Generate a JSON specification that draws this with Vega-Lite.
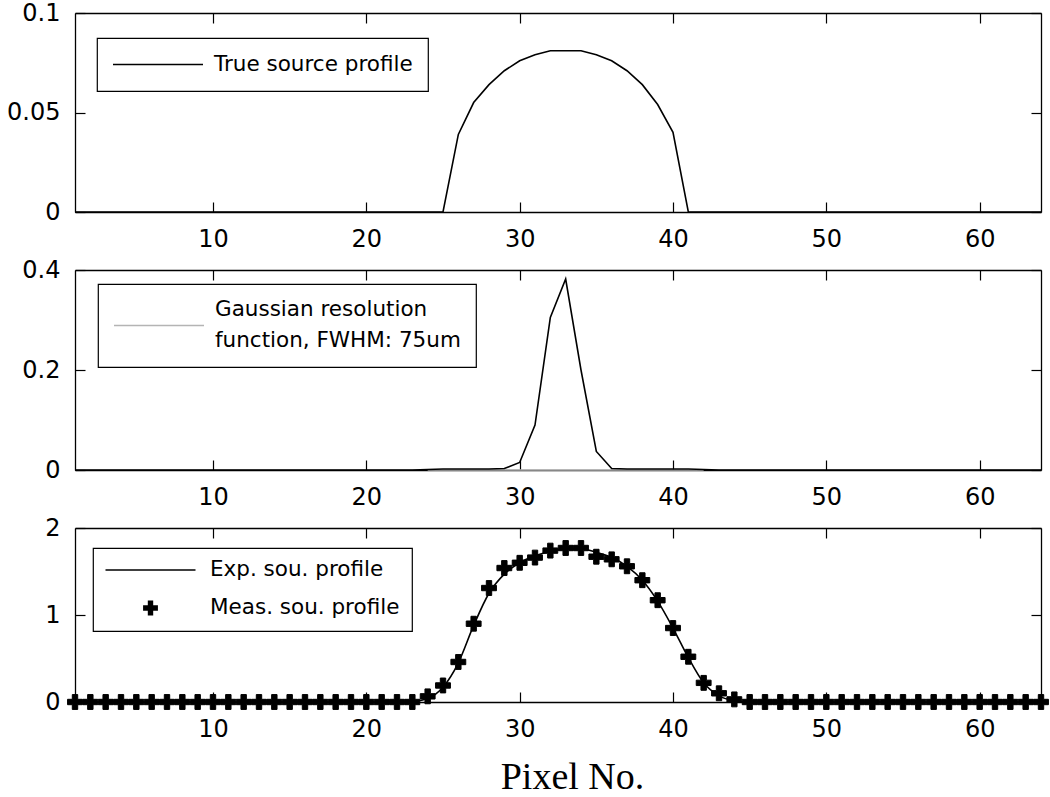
{
  "$schema": "https://vega.github.io/schema/vega-lite/v6.json",
  "background": "white",
  "padding": {"left": 6, "top": 1, "right": 5, "bottom": 0},
  "bounds": "flush",
  "spacing": 58,
  "resolve": {"scale": {"color": "independent", "shape": "independent"}, "legend": {"color": "independent", "shape": "independent"}},
  "config": {
    "view": {"stroke": null},
    "axis": {
      "grid": false,
      "domainColor": "black",
      "domainWidth": 1.3,
      "tickColor": "black",
      "tickWidth": 1.2,
      "tickSize": -10,
      "labelFont": "DejaVu Sans",
      "labelFontSize": 24,
      "labelColor": "black",
      "labelPadding": 25,
      "labelFlush": false,
      "labelOverlap": false
    },
    "legend": {
      "strokeColor": "black",
      "strokeWidth": 1.2,
      "fillColor": "white",
      "cornerRadius": 0,
      "labelFont": "DejaVu Sans",
      "labelFontSize": 21.5,
      "labelColor": "black",
      "labelLimit": 500
    }
  },
  "datasets": {
    "p1": [
      {"x":1,"y":0},{"x":2,"y":0},{"x":3,"y":0},{"x":4,"y":0},{"x":5,"y":0},{"x":6,"y":0},{"x":7,"y":0},{"x":8,"y":0},
      {"x":9,"y":0},{"x":10,"y":0},{"x":11,"y":0},{"x":12,"y":0},{"x":13,"y":0},{"x":14,"y":0},{"x":15,"y":0},{"x":16,"y":0},
      {"x":17,"y":0},{"x":18,"y":0},{"x":19,"y":0},{"x":20,"y":0},{"x":21,"y":0},{"x":22,"y":0},{"x":23,"y":0},{"x":24,"y":0},
      {"x":25,"y":0},{"x":26,"y":0.039},{"x":27,"y":0.055},{"x":28,"y":0.064},{"x":29,"y":0.071},{"x":30,"y":0.076},{"x":31,"y":0.079},{"x":32,"y":0.081},
      {"x":33,"y":0.081},{"x":34,"y":0.081},{"x":35,"y":0.079},{"x":36,"y":0.076},{"x":37,"y":0.071},{"x":38,"y":0.064},{"x":39,"y":0.054},{"x":40,"y":0.04},
      {"x":41,"y":0},{"x":42,"y":0},{"x":43,"y":0},{"x":44,"y":0},{"x":45,"y":0},{"x":46,"y":0},{"x":47,"y":0},{"x":48,"y":0},
      {"x":49,"y":0},{"x":50,"y":0},{"x":51,"y":0},{"x":52,"y":0},{"x":53,"y":0},{"x":54,"y":0},{"x":55,"y":0},{"x":56,"y":0},
      {"x":57,"y":0},{"x":58,"y":0},{"x":59,"y":0},{"x":60,"y":0},{"x":61,"y":0},{"x":62,"y":0},{"x":63,"y":0},{"x":64,"y":0}
    ],
    "p2": [
      {"x":1,"y":0},{"x":2,"y":0},{"x":3,"y":0},{"x":4,"y":0},{"x":5,"y":0},{"x":6,"y":0},{"x":7,"y":0},{"x":8,"y":0},
      {"x":9,"y":0},{"x":10,"y":0},{"x":11,"y":0},{"x":12,"y":0},{"x":13,"y":0},{"x":14,"y":0},{"x":15,"y":0},{"x":16,"y":0},
      {"x":17,"y":0},{"x":18,"y":0},{"x":19,"y":0},{"x":20,"y":0},{"x":21,"y":0},{"x":22,"y":0},{"x":23,"y":0},{"x":24,"y":0.001},
      {"x":25,"y":0.002},{"x":26,"y":0.002},{"x":27,"y":0.002},{"x":28,"y":0.002},{"x":29,"y":0.003},{"x":30,"y":0.015},{"x":31,"y":0.09},{"x":32,"y":0.305},
      {"x":33,"y":0.382},{"x":34,"y":0.2},{"x":35,"y":0.037},{"x":36,"y":0.003},{"x":37,"y":0.002},{"x":38,"y":0.002},{"x":39,"y":0.002},{"x":40,"y":0.002},
      {"x":41,"y":0.002},{"x":42,"y":0.001},{"x":43,"y":0},{"x":44,"y":0},{"x":45,"y":0},{"x":46,"y":0},{"x":47,"y":0},{"x":48,"y":0},
      {"x":49,"y":0},{"x":50,"y":0},{"x":51,"y":0},{"x":52,"y":0},{"x":53,"y":0},{"x":54,"y":0},{"x":55,"y":0},{"x":56,"y":0},
      {"x":57,"y":0},{"x":58,"y":0},{"x":59,"y":0},{"x":60,"y":0},{"x":61,"y":0},{"x":62,"y":0},{"x":63,"y":0},{"x":64,"y":0}
    ],
    "p2g": [
      {"x":24,"y":0},{"x":42,"y":0}
    ],
    "p3": [
      {"x":1,"exp":0,"meas":0},{"x":2,"exp":0,"meas":0},{"x":3,"exp":0,"meas":0},{"x":4,"exp":0,"meas":0},
      {"x":5,"exp":0,"meas":0},{"x":6,"exp":0,"meas":0},{"x":7,"exp":0,"meas":0},{"x":8,"exp":0,"meas":0},
      {"x":9,"exp":0,"meas":0},{"x":10,"exp":0,"meas":0},{"x":11,"exp":0,"meas":0},{"x":12,"exp":0,"meas":0},
      {"x":13,"exp":0,"meas":0},{"x":14,"exp":0,"meas":0},{"x":15,"exp":0,"meas":0},{"x":16,"exp":0,"meas":0},
      {"x":17,"exp":0,"meas":0},{"x":18,"exp":0,"meas":0},{"x":19,"exp":0,"meas":0},{"x":20,"exp":0,"meas":0},
      {"x":21,"exp":0,"meas":0},{"x":22,"exp":0,"meas":0},{"x":23,"exp":0.005,"meas":0},{"x":24,"exp":0.04,"meas":0.065},
      {"x":25,"exp":0.17,"meas":0.19},{"x":26,"exp":0.45,"meas":0.46},{"x":27,"exp":0.88,"meas":0.9},{"x":28,"exp":1.25,"meas":1.31},
      {"x":29,"exp":1.47,"meas":1.54},{"x":30,"exp":1.6,"meas":1.6},{"x":31,"exp":1.68,"meas":1.66},{"x":32,"exp":1.73,"meas":1.74},
      {"x":33,"exp":1.76,"meas":1.77},{"x":34,"exp":1.76,"meas":1.77},{"x":35,"exp":1.72,"meas":1.67},{"x":36,"exp":1.66,"meas":1.64},
      {"x":37,"exp":1.56,"meas":1.56},{"x":38,"exp":1.4,"meas":1.4},{"x":39,"exp":1.16,"meas":1.17},{"x":40,"exp":0.85,"meas":0.85},
      {"x":41,"exp":0.51,"meas":0.52},{"x":42,"exp":0.22,"meas":0.22},{"x":43,"exp":0.07,"meas":0.1},{"x":44,"exp":0.015,"meas":0.03},
      {"x":45,"exp":0,"meas":0},{"x":46,"exp":0,"meas":0},{"x":47,"exp":0,"meas":0},{"x":48,"exp":0,"meas":0},
      {"x":49,"exp":0,"meas":0},{"x":50,"exp":0,"meas":0},{"x":51,"exp":0,"meas":0},{"x":52,"exp":0,"meas":0},
      {"x":53,"exp":0,"meas":0},{"x":54,"exp":0,"meas":0},{"x":55,"exp":0,"meas":0},{"x":56,"exp":0,"meas":0},
      {"x":57,"exp":0,"meas":0},{"x":58,"exp":0,"meas":0},{"x":59,"exp":0,"meas":0},{"x":60,"exp":0,"meas":0},
      {"x":61,"exp":0,"meas":0},{"x":62,"exp":0,"meas":0},{"x":63,"exp":0,"meas":0},{"x":64,"exp":0,"meas":0}
    ]
  },
  "vconcat": [
    {
      "width": 966,
      "height": 199,
      "data": {"name": "p1"},
      "resolve": {"axis": {"x": "independent", "y": "independent"}},
      "layer": [
        {
          "mark": {"type": "line", "strokeWidth": 1.6},
          "encoding": {
            "x": {"field": "x", "type": "quantitative", "scale": {"domain": [1, 64], "nice": false, "zero": false},
                  "axis": {"orient": "bottom", "values": [10, 20, 30, 40, 50, 60], "title": null}},
            "y": {"field": "y", "type": "quantitative", "scale": {"domain": [0, 0.1], "nice": false},
                  "axis": {"orient": "left", "values": [0, 0.05, 0.1], "format": "~g", "title": null}},
            "color": {"datum": "True source profile", "scale": {"range": ["black"]},
                      "legend": {"title": null, "orient": "none", "legendX": 22, "legendY": 25, "symbolType": "stroke",
                                 "symbolSize": 8100, "symbolStrokeWidth": 1.5, "labelOffset": 10, "padding": 15, "clipHeight": 23}}
          }
        },
        {
          "mark": {"type": "line", "strokeOpacity": 0},
          "encoding": {
            "x": {"field": "x", "type": "quantitative", "axis": {"orient": "top", "values": [10, 20, 30, 40, 50, 60], "labels": false, "title": null}},
            "y": {"field": "y", "type": "quantitative", "axis": {"orient": "right", "values": [0, 0.05, 0.1], "labels": false, "title": null}}
          }
        }
      ]
    },
    {
      "width": 966,
      "height": 200,
      "resolve": {"axis": {"x": "independent", "y": "independent"}},
      "layer": [
        {
          "data": {"name": "p2g"},
          "mark": {"type": "line", "strokeWidth": 1.6},
          "encoding": {
            "x": {"field": "x", "type": "quantitative", "scale": {"domain": [1, 64], "nice": false, "zero": false},
                  "axis": {"orient": "top", "values": [10, 20, 30, 40, 50, 60], "labels": false, "title": null}},
            "y": {"field": "y", "type": "quantitative", "scale": {"domain": [0, 0.4], "nice": false},
                  "axis": {"orient": "right", "values": [0, 0.2, 0.4], "labels": false, "title": null}},
            "color": {"datum": "Gaussian resolution|function, FWHM: 75um", "scale": {"range": ["#b4b4b4"]},
                      "legend": {"title": null, "orient": "none", "legendX": 23, "legendY": 14, "symbolType": "stroke",
                                 "symbolSize": 8100, "symbolStrokeWidth": 1.5, "labelOffset": 10, "padding": 15, "clipHeight": 53,
                                 "labelExpr": "split(datum.label, '|')",
                                 "encode": {"labels": {"update": {"lineHeight": {"value": 31}, "dy": {"value": -15.5}}}}}}
          }
        },
        {
          "data": {"name": "p2"},
          "mark": {"type": "line", "color": "black", "strokeWidth": 1.6},
          "encoding": {
            "x": {"field": "x", "type": "quantitative", "axis": {"orient": "bottom", "values": [10, 20, 30, 40, 50, 60], "title": null}},
            "y": {"field": "y", "type": "quantitative", "axis": {"orient": "left", "values": [0, 0.2, 0.4], "format": "~g", "title": null}}
          }
        }
      ]
    },
    {
      "width": 966,
      "height": 174,
      "data": {"name": "p3"},
      "resolve": {"axis": {"x": "independent", "y": "independent"}},
      "layer": [
        {
          "mark": {"type": "line", "color": "black", "strokeWidth": 1.6, "interpolate": "monotone"},
          "encoding": {
            "x": {"field": "x", "type": "quantitative", "scale": {"domain": [1, 64], "nice": false, "zero": false},
                  "axis": {"orient": "bottom", "values": [10, 20, 30, 40, 50, 60], "title": "Pixel No.",
                           "titleFont": "Liberation Serif", "titleFontSize": 38, "titleFontWeight": "normal",
                           "titleColor": "black", "titlePadding": 17, "titleX": 497}},
            "y": {"field": "exp", "type": "quantitative", "scale": {"domain": [0, 2], "nice": false},
                  "axis": {"orient": "left", "values": [0, 1, 2], "format": "~g", "title": null}}
          }
        },
        {
          "mark": {"type": "point", "filled": true, "fill": "black", "stroke": "black", "strokeWidth": 1, "opacity": 1, "size": 8100},
          "encoding": {
            "x": {"field": "x", "type": "quantitative", "axis": {"orient": "top", "values": [10, 20, 30, 40, 50, 60], "labels": false, "title": null}},
            "y": {"field": "meas", "type": "quantitative", "axis": {"orient": "right", "values": [0, 1, 2], "labels": false, "title": null}},
            "shape": {"datum": "Meas. sou. profile",
                      "scale": {"domain": ["Exp. sou. profile", "Meas. sou. profile"],
                                "range": ["M-1,-0.016L1,-0.016L1,0.016L-1,0.016Z", "M-0.06,-0.165L0.06,-0.165L0.06,-0.06L0.165,-0.06L0.165,0.06L0.06,0.06L0.06,0.165L-0.06,0.165L-0.06,0.06L-0.165,0.06L-0.165,-0.06L-0.06,-0.06Z"]},
                      "legend": {"title": null, "orient": "none", "legendX": 18, "legendY": 20,
                                 "symbolSize": 8100, "labelOffset": 14, "padding": 12, "clipHeight": 20, "rowPadding": 16,
                                 "symbolStrokeColor": "black", "symbolFillColor": "black", "symbolStrokeWidth": 0.6, "symbolOpacity": 1}}
          }
        }
      ]
    }
  ]
}
